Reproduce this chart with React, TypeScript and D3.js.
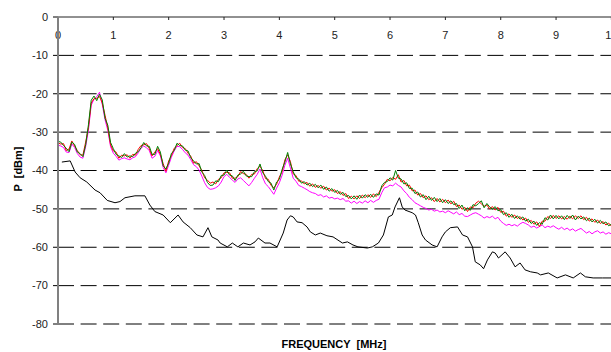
import React from 'react';
import * as d3 from 'd3';

const W = 611;
const H = 352;
const FREQ_STEP = 0.05; // MHz between samples of the coloured traces

const xTickValues = [0, 1, 2, 3, 4, 5, 6, 7, 8, 9, 10];
const yTickValues = [0, -10, -20, -30, -40, -50, -60, -70, -80];
const gridValues = [-10, -20, -30, -40, -50, -60, -70, -80];

const redDbm = [
  -32.8, -33.1, -33.0, -34.8, -34.4, -32.3, -33.6, -34.8, -35.9, -36.0,
  -32.6, -28.8, -22.4, -21.3, -21.2, -20.7, -22.4, -25.6, -28.9, -33.3,
  -34.9, -35.2, -36.8, -36.0, -36.2, -35.9, -36.8, -35.8, -36.0, -34.5,
  -33.5, -33.3, -33.0, -34.3, -36.2, -35.2, -34.3, -35.8, -38.2, -40.2,
  -37.5, -36.1, -34.2, -33.5, -32.9, -34.0, -34.3, -35.5, -36.3, -38.1,
  -37.7, -38.8, -40.0, -41.9, -42.5, -43.3, -43.0, -43.5, -42.3, -41.9,
  -40.6, -40.5, -40.6, -42.0, -42.0, -41.6, -40.3, -40.8, -41.0, -42.0,
  -41.0, -40.9, -39.5, -38.9, -40.0, -42.1, -42.3, -43.9, -44.5, -43.6,
  -41.7, -40.3, -37.2, -35.9, -37.7, -40.9, -41.3, -42.8, -42.7, -43.5,
  -43.1, -44.1, -43.5, -44.4, -43.9, -44.6, -44.1, -45.1, -44.6, -45.4,
  -45.0, -46.0, -45.5, -46.5, -46.0, -47.3, -46.7, -47.4, -46.6, -47.3,
  -46.4, -47.1, -46.3, -47.0, -46.1, -46.8, -45.7, -44.5, -43.6, -42.3,
  -42.7, -41.8, -42.3, -41.1, -43.0, -42.6, -44.0, -43.8, -45.3, -45.1,
  -46.4, -46.0, -47.1, -46.6, -47.6, -47.1, -48.1, -47.3, -48.2, -47.5,
  -48.4, -47.7, -48.7, -48.0, -49.4, -49.0, -50.1, -49.6, -50.7, -49.5,
  -49.7, -48.5, -48.0, -48.7, -49.3, -49.0, -50.0, -49.4, -50.3, -49.6,
  -50.9, -50.6, -51.9, -51.3, -52.2, -51.6, -52.5, -52.0, -52.9, -52.4,
  -53.5, -53.0, -54.0, -53.4, -54.6, -53.2, -53.2, -52.0, -52.5, -51.7,
  -52.5, -51.8, -52.6, -52.0, -52.7, -51.9, -52.6, -51.8, -52.5, -51.8,
  -52.8, -52.2, -53.2, -52.6, -53.5, -52.9, -53.8, -53.3, -54.2, -53.7,
  -54.5,
];

const greenDbm = [
  -32.4, -32.6, -33.5, -34.2, -35.1, -32.6, -33.2, -35.2, -35.6, -36.4,
  -33.3, -28.1, -21.7, -20.6, -21.8, -20.1, -21.6, -26.4, -28.2, -32.7,
  -34.3, -35.8, -36.2, -36.6, -35.6, -36.5, -36.2, -36.4, -35.5, -35.1,
  -34.1, -32.7, -33.6, -33.7, -35.8, -35.8, -33.7, -35.2, -38.8, -39.6,
  -38.1, -35.5, -34.8, -32.9, -33.5, -33.6, -34.7, -34.9, -36.7, -37.5,
  -38.3, -38.2, -40.4, -41.3, -43.1, -43.9, -43.8, -42.7, -42.9, -41.3,
  -41.2, -39.9, -41.2, -41.4, -42.6, -41.2, -40.9, -40.2, -41.4, -41.6,
  -41.6, -40.3, -40.1, -38.3, -40.6, -41.5, -42.9, -43.3, -45.1, -43.0,
  -42.3, -39.7, -37.8, -35.3, -38.3, -40.3, -41.9, -42.2, -43.3, -42.9,
  -43.8, -43.3, -44.2, -43.6, -44.5, -43.8, -44.9, -44.3, -45.4, -44.7,
  -45.7, -45.2, -46.2, -45.7, -46.8, -46.5, -47.4, -46.6, -47.5, -46.4,
  -47.2, -46.3, -47.0, -46.2, -47.0, -46.1, -46.4, -44.0, -43.1, -42.9,
  -41.9, -42.5, -40.0, -42.0, -42.2, -43.5, -43.2, -44.7, -44.6, -46.0,
  -45.6, -46.9, -46.3, -47.6, -46.7, -47.8, -47.0, -48.1, -47.3, -48.4,
  -47.6, -48.6, -47.9, -48.9, -48.6, -49.9, -49.0, -50.5, -49.7, -50.4,
  -48.9, -49.2, -48.6, -47.9, -49.7, -48.6, -49.5, -50.1, -49.4, -50.5,
  -50.2, -51.5, -51.0, -52.2, -51.4, -52.5, -51.8, -52.7, -52.1, -53.2,
  -52.7, -53.8, -53.2, -54.3, -53.6, -54.0, -52.3, -52.9, -51.6, -52.6,
  -51.7, -52.6, -51.8, -52.8, -51.7, -52.5, -51.6, -52.9, -51.9, -52.6,
  -52.1, -53.1, -52.4, -53.4, -52.7, -53.7, -53.0, -53.9, -53.4, -54.4,
  -54.0,
];

const magentaDbm = [
  -33.4, -33.6, -34.0, -35.2, -35.3, -33.1, -34.0, -35.6, -36.5, -36.8,
  -33.8, -29.5, -23.0, -21.4, -20.8, -19.6, -22.8, -26.8, -29.5, -33.8,
  -35.5, -36.3, -37.3, -36.9, -36.7, -37.0, -37.2, -36.7, -36.4, -35.4,
  -34.2, -33.6, -34.1, -34.8, -36.8, -36.3, -34.8, -36.2, -39.2, -40.6,
  -38.6, -36.5, -34.9, -33.7, -33.8, -34.5, -35.4, -36.0, -37.2, -38.5,
  -39.0, -39.9, -41.5, -43.2, -44.4, -44.9, -44.8, -44.5, -44.0, -43.0,
  -41.6, -41.0, -41.8, -42.5, -43.1, -42.2, -41.9, -42.6, -43.3, -44.0,
  -43.1, -42.0, -41.0, -39.6, -41.9, -43.5, -44.2, -45.2, -46.2, -44.6,
  -43.2, -41.2, -38.6, -36.8, -39.4, -42.0, -42.8, -43.9, -44.2, -44.6,
  -45.0, -45.5, -45.8, -46.0, -46.5, -46.3, -46.9, -46.6, -47.2, -47.0,
  -47.4, -47.2, -47.6, -47.3, -48.0, -47.9, -48.5, -48.0, -48.6, -48.1,
  -48.5, -47.9, -48.4, -47.8, -48.3, -47.8, -47.5, -45.8, -44.5, -44.3,
  -43.8, -44.0, -43.3, -43.9, -44.3, -45.3, -46.0, -47.0, -47.6, -48.4,
  -48.8, -49.2, -49.6, -49.9, -50.3, -50.1, -50.6, -50.3, -50.8, -50.6,
  -51.0, -50.5, -50.9, -51.3, -50.8, -51.5, -51.2, -51.9, -52.0, -51.6,
  -51.2, -51.0, -51.4, -51.8, -52.4, -52.0, -52.3, -51.9, -52.6, -52.2,
  -53.2, -53.8, -54.3, -54.0, -54.4, -54.1, -54.5, -53.9, -53.5, -53.8,
  -54.2, -54.8, -54.5, -55.0, -54.6, -54.2, -54.9, -54.5, -54.8, -54.4,
  -54.9, -55.3, -54.8, -55.4, -55.0, -55.6, -55.2, -55.8, -55.4, -55.1,
  -55.7, -56.3, -55.9, -56.5, -56.0, -55.7, -56.3, -56.0, -56.6, -56.2,
  -56.5,
];

const blackFreq = [
  0.07, 0.22, 0.31, 0.40, 0.52, 0.67, 0.76, 0.89, 1.03, 1.12, 1.21, 1.39, 1.57, 1.66, 1.75,
  1.90, 2.03, 2.17, 2.26, 2.39, 2.51, 2.62, 2.71, 2.78, 2.89, 2.93, 3.06, 3.15, 3.25, 3.35,
  3.47, 3.56, 3.62, 3.74, 3.83, 3.96, 4.07, 4.14, 4.20, 4.25, 4.32, 4.41, 4.50, 4.56, 4.65,
  4.74, 4.86, 4.97, 5.14, 5.23, 5.33, 5.42, 5.59, 5.68, 5.79, 5.88, 5.97, 6.04, 6.09, 6.17,
  6.22, 6.27, 6.40, 6.46, 6.51, 6.58, 6.64, 6.76, 6.85, 6.94, 7.00, 7.09, 7.22, 7.31, 7.40,
  7.49, 7.54, 7.63, 7.69, 7.76, 7.85, 7.90, 7.96, 8.08, 8.17, 8.26, 8.35, 8.44, 8.54, 8.66,
  8.72, 8.86, 9.02, 9.17, 9.31, 9.44, 9.53, 9.67, 9.84, 10.0,
];

const blackDbm = [
  -37.8, -37.5, -40.4, -41.9, -43.0, -45.1, -45.8, -47.8, -48.4, -48.1, -47.1, -46.6, -46.6, -49.0, -50.7,
  -51.6, -53.6, -51.6, -53.4, -54.9, -56.8, -57.3, -54.9, -57.3, -58.1, -58.9, -59.9, -58.9, -59.9, -58.9,
  -59.4, -58.6, -57.6, -58.9, -58.9, -59.9, -56.3, -52.9, -51.8, -52.1, -53.4, -53.6, -54.7, -56.0, -56.8,
  -56.3, -57.0, -57.3, -58.9, -58.6, -59.4, -59.9, -60.2, -59.9, -58.9, -56.8, -52.1, -51.6, -49.5, -47.1,
  -49.5, -50.3, -51.0, -51.6, -53.6, -56.8, -58.1, -59.4, -59.9, -57.3, -56.0, -54.9, -54.7, -56.8, -57.3,
  -59.9, -63.8, -64.6, -65.6, -63.3, -61.2, -61.5, -62.8, -61.2, -62.8, -65.1, -64.1, -65.9, -66.4, -66.7,
  -67.2, -66.7, -68.0, -67.2, -68.0, -66.7, -67.7, -68.0, -68.0, -68.0,
];

const FONT = '"Liberation Sans", Arial, sans-serif';

export default function App() {
  const x = d3.scaleLinear().domain([0, 10]).range([58, 611.4]);
  const y = d3.scaleLinear().domain([-80, 0]).range([324, 17]);

  const sampledLine = d3
    .line<number>()
    .x((_, i) => x(i * FREQ_STEP))
    .y((d) => y(d));

  const blackLine = d3
    .line<number>()
    .x((_, i) => x(blackFreq[i]))
    .y((d) => y(d));

  const xLeft = x(0);
  const xRight = x(10);

  return (
    <svg
      width={W}
      height={H}
      style={{ position: 'absolute', left: 0, top: 0, background: '#fff' }}
      fontFamily={FONT}
    >
      <rect x={0} y={0} width={W} height={H} fill="#fff" />
      {/* dashed grid lines */}
      {gridValues.map((v) => (
        <line
          key={'g' + v}
          x1={xLeft}
          x2={xRight}
          y1={y(v)}
          y2={y(v)}
          stroke="#000"
          strokeWidth={1}
          strokeDasharray="16 6.6"
        />
      ))}
      {/* y ticks */}
      {yTickValues.map((v) => (
        <line key={'yt' + v} x1={xLeft - 5} x2={xLeft} y1={y(v)} y2={y(v)} stroke="#000" strokeWidth={1} />
      ))}
      {/* y tick labels */}
      {yTickValues.map((v) => (
        <text
          key={'yl' + v}
          x={48}
          y={y(v)}
          dy="0.35em"
          textAnchor="end"
          fontSize={11}
          fill="#222"
        >
          {v}
        </text>
      ))}
      {/* top axis (value 0) */}
      <line x1={xLeft} x2={xRight} y1={y(0)} y2={y(0)} stroke="#222" strokeWidth={1} />
      {xTickValues.map((v) => (
        <line key={'xt' + v} x1={x(v)} x2={x(v)} y1={y(0)} y2={y(0) + 3} stroke="#222" strokeWidth={1} />
      ))}
      {xTickValues.map((v) => (
        <text key={'xl' + v} x={x(v)} y={39} textAnchor="middle" fontSize={11} fill="#222">
          {v}
        </text>
      ))}

      {/* series */}
      <path d={blackLine(blackDbm) || ''} fill="none" stroke="#000" strokeWidth={1} />
      <path d={sampledLine(magentaDbm) || ''} fill="none" stroke="#FF00FF" strokeWidth={1} />
      <path d={sampledLine(redDbm) || ''} fill="none" stroke="#FF0000" strokeWidth={1} />
      <path d={sampledLine(greenDbm) || ''} fill="none" stroke="#008000" strokeWidth={1} />

      {/* y axis line */}
      <line x1={xLeft} x2={xLeft} y1={y(0)} y2={y(-80)} stroke="#808080" strokeWidth={2} />

      {/* axis titles */}
      <text
        transform={`translate(22, 169) rotate(-90)`}
        textAnchor="middle"
        fontSize={11}
        fontWeight="bold"
        fill="#000"
        style={{ whiteSpace: 'pre' }}
      >
        {'P  [dBm]'}
      </text>
      <text
        x={334}
        y={348}
        textAnchor="middle"
        fontSize={11}
        fontWeight="bold"
        fill="#000"
        style={{ whiteSpace: 'pre' }}
      >
        {'FREQUENCY  [MHz]'}
      </text>
    </svg>
  );
}
